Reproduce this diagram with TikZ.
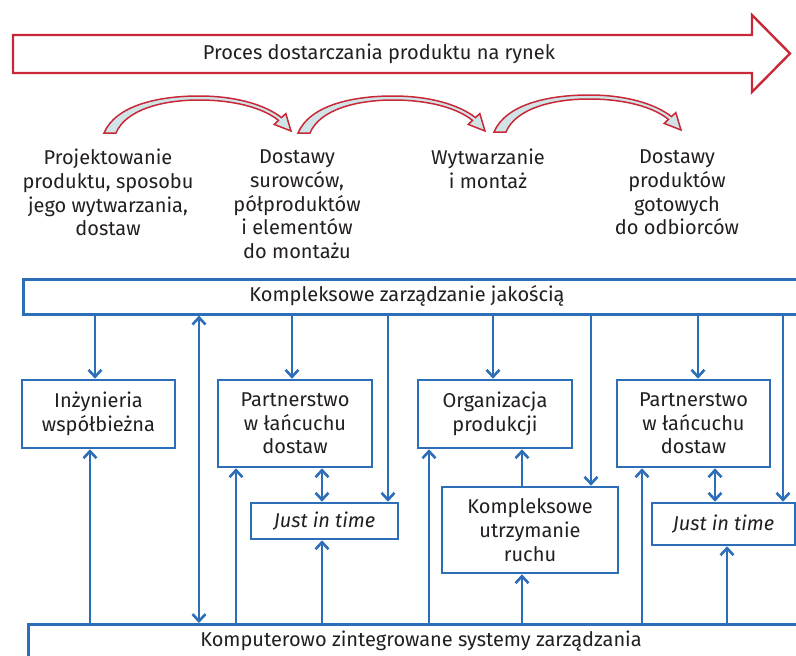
\documentclass[tikz,border=0pt]{standalone}
\usepackage{fontspec}
\setmainfont{Fira Sans}
\usetikzlibrary{arrows.meta}
\definecolor{qblue}{RGB}{45,110,185}
\definecolor{qred}{RGB}{200,40,55}
\definecolor{qfill}{RGB}{208,228,232}
\definecolor{qtext}{RGB}{35,31,32}
\begin{document}
\begin{tikzpicture}[x=1pt,y=-1pt,
  every node/.style={text=qtext, font=\fontsize{20}{23.7}\selectfont, align=center, inner sep=0pt},
  box/.style={draw=qblue, line width=2.6pt, fill=white},
  conn/.style={draw=qblue, line width=2.6pt, -{Straight Barb[length=7pt,width=13pt]}},
  dconn/.style={draw=qblue, line width=2.6pt, {Straight Barb[length=7pt,width=13pt]}-{Straight Barb[length=7pt,width=13pt]}},
  redarr/.style={draw=qred, line width=2.4pt, fill=white, line join=miter},
  curvarr/.pic={
    \filldraw[draw=qred, fill=qfill, line width=1.5pt, line join=miter]
      (0,0) .. controls (12,-28) and (55,-37) .. (95,-37)
      .. controls (130,-37) and (160,-29) .. (177.5,-15.4)
      -- (181.8,-19.4) -- (187,-2) -- (170.2,-8.6) -- (174.5,-12.6)
      .. controls (158,-26) and (128,-33) .. (95,-33)
      .. controls (60,-33) and (22,-24) .. (12,0) -- cycle;
  }]
\clip (0,0) rectangle (796,656);
\fill[white] (0,0) rectangle (796,656);

% big process arrow
\filldraw[redarr] (13,35) -- (752,35) -- (752,15) -- (790,53.5) -- (752,92) -- (752,73) -- (13,73) -- cycle;
\node (proc) at (379,54) {Proces dostarczania produktu na rynek};

% curved arrows
\pic at (104,133) {curvarr};
\pic at (298,133) {curvarr};
\pic at (494,132) {curvarr};

% stage labels
\node (l1) at (108,192.5) {Projektowanie\\produktu, sposobu\\jego wytwarzania,\\dostaw};
\node (l2) at (297,204.5) {Dostawy\\surowców,\\półproduktów\\i elementów\\do montażu};
\node (l3) at (488,168.5) {Wytwarzanie\\i montaż};
\node (l4) at (677,192.5) {Dostawy\\produktów\\gotowych\\do odbiorców};

% top and bottom bars
\node[box, anchor=north west, minimum width=820, minimum height=35] (qm) at (22,278) {};
\node (qmt) at (407,296) {Kompleksowe zarządzanie jakością};
\node[box, anchor=north west, minimum width=820, minimum height=60] (kis) at (27,623) {};
\node (kist) at (421,641) {Komputerowo zintegrowane systemy zarządzania};

% boxes
\node[box, minimum width=153, minimum height=68] (inz) at (98.5,414) {Inżynieria\\współbieżna};
\node[box, minimum width=154, minimum height=87] (p1) at (295,423.5) {Partnerstwo\\w łańcuchu\\dostaw};
\node[box, minimum width=154, minimum height=68] (org) at (495,414) {Organizacja\\produkcji};
\node[box, minimum width=153, minimum height=87] (p2) at (693.5,423.5) {Partnerstwo\\w łańcuchu\\dostaw};
\node[box, minimum width=147, minimum height=36] (jit1) at (324.5,521) {\textit{Just in time}};
\node[box, minimum width=176, minimum height=86] (kur) at (530,530) {Kompleksowe\\utrzymanie\\ruchu};
\node[box, minimum width=143, minimum height=42] (jit2) at (723.5,524) {\textit{Just in time}};

% columns
\coordinate (c1) at (95,0);
\coordinate (c2) at (199,0);
\coordinate (c3) at (292,0);
\coordinate (c4) at (388,0);
\coordinate (c5) at (493,0);
\coordinate (c6) at (591,0);
\coordinate (c7) at (698,0);
\coordinate (c8) at (783,0);
\coordinate (d1) at (90,0);
\coordinate (d2) at (236,0);
\coordinate (d3) at (322,0);
\coordinate (d4) at (429,0);
\coordinate (d5) at (522,0);
\coordinate (d6) at (642,0);
\coordinate (d7) at (715,0);
\coordinate (d8) at (727,0);

% from quality management downwards
\draw[conn] (c1 |- qm.south) -- (c1 |- inz.north);
\draw[dconn] (c2 |- qm.south) -- (c2 |- kis.north);
\draw[conn] (c3 |- qm.south) -- (c3 |- p1.north);
\draw[conn] (c4 |- qm.south) -- (c4 |- jit1.north);
\draw[conn] (c5 |- qm.south) -- (c5 |- org.north);
\draw[conn] (c6 |- qm.south) -- (c6 |- kur.north);
\draw[conn] (c7 |- qm.south) -- (c7 |- p2.north);
\draw[conn] (c8 |- qm.south) -- (c8 |- jit2.north);

% from computer systems upwards
\draw[conn] (d1 |- kis.north) -- (d1 |- inz.south);
\draw[conn] (d2 |- kis.north) -- (d2 |- p1.south);
\draw[dconn] (d3 |- p1.south) -- (d3 |- jit1.north);
\draw[conn] (d3 |- kis.north) -- (d3 |- jit1.south);
\draw[conn] (d4 |- kis.north) -- (d4 |- org.south);
\draw[conn] (d5 |- kur.north) -- (d5 |- org.south);
\draw[conn] (d5 |- kis.north) -- (d5 |- kur.south);
\draw[conn] (d6 |- kis.north) -- (d6 |- p2.south);
\draw[dconn] (d7 |- p2.south) -- (d7 |- jit2.north);
\draw[conn] (d8 |- kis.north) -- (d8 |- jit2.south);
\end{tikzpicture}
\end{document}
